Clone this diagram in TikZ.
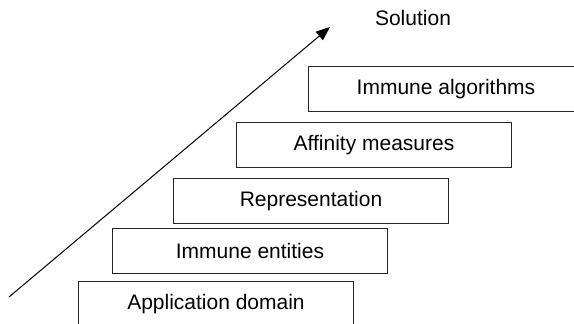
\documentclass[tikz,border=0pt]{standalone}
\usepackage{fontspec}
\setmainfont{Liberation Sans}
\usetikzlibrary{arrows.meta}
\tikzset{
  layer/.style={draw=black!85, line width=1pt, fill=white, minimum width=275pt,
    minimum height=45pt, anchor=north west, inner sep=0pt,
    font=\fontsize{21pt}{25pt}\selectfont},
  lbl/.style={font=\fontsize{21pt}{25pt}\selectfont, inner sep=0pt}
}
\begin{document}
\begin{tikzpicture}[x=1pt, y=-1pt]
  \useasboundingbox (0,0) rectangle (574,324);
  % stacked layers, bottom to top
  \node[layer] (app) at (78,281) {Application domain};
  \node[layer] (ent) at (112,228) {Immune entities};
  \node[layer] (rep) at (173,178) {Representation};
  \node[layer] (aff) at (236,122) {Affinity measures};
  \node[layer] (alg) at (308,66) {Immune algorithms};
  % progress arrow towards the solution
  \node[lbl] (sol) at (413,18) {Solution};
  \coordinate (start) at (9,297);
  \coordinate (tip) at (330,27);
  \draw[line width=1pt, -{Triangle[length=14pt, width=11pt]}] (start) -- (tip);
\end{tikzpicture}
\end{document}
